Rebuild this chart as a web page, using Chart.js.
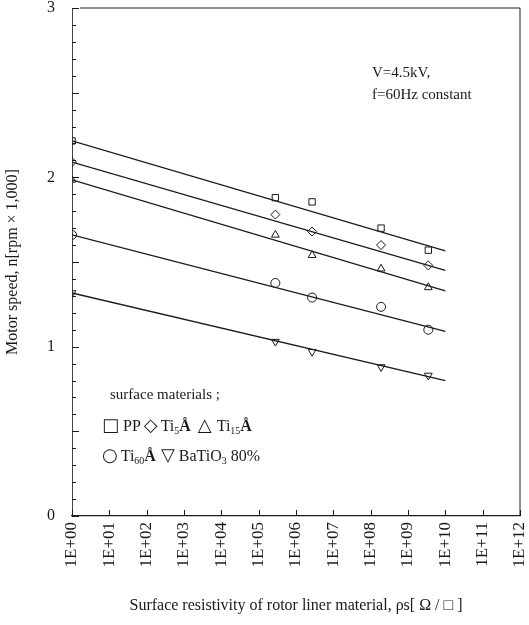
<!DOCTYPE html>
<html lang="en">
<head>
<meta charset="UTF-8">
<title>Motor speed vs surface resistivity</title>
<script src="https://cdn.jsdelivr.net/npm/chart.js"></script>
<style>
  body { margin: 0; background: #fff; }
  #wrap { width: 529px; height: 625px; position: relative; }
</style>
</head>
<body>
<div id="wrap"><canvas id="speedChart"></canvas></div>
<script>
// surface resistivity of the rotor liners (ohm/sq)
const resistivity = [1, 2.8e5, 2.7e6, 1.9e8, 3.5e9];

// measured motor speed (x1000 rpm)
const speedPP     = [2.215, 1.88, 1.855, 1.70, 1.57];
const speedTi5    = [2.09, 1.78, 1.68, 1.60, 1.48];
const speedTi15   = [1.985, 1.66, 1.54, 1.46, 1.35];
const speedTi60   = [1.66, 1.376, 1.29, 1.235, 1.10];
const speedBaTiO3 = [1.317, 1.03, 0.97, 0.88, 0.83];

// fitted straight lines: value at 1E+00 and at 1E+10
const fitX      = [1, 1e10];
const fitPP     = [2.215, 1.565];
const fitTi5    = [2.09, 1.45];
const fitTi15   = [1.985, 1.33];
const fitTi60   = [1.66, 1.09];
const fitBaTiO3 = [1.317, 0.80];

// axis ticks
const xTickValues = [1e0, 1e1, 1e2, 1e3, 1e4, 1e5, 1e6, 1e7, 1e8, 1e9, 1e10, 1e11, 1e12];
const xTickLabels = ['1E+00', '1E+01', '1E+02', '1E+03', '1E+04', '1E+05', '1E+06',
                     '1E+07', '1E+08', '1E+09', '1E+10', '1E+11', '1E+12'];
const yTickValues = [0, 1, 2, 3];

const serif = '"Liberation Serif", "DejaVu Serif", serif';
const ink = '#1a1a1a';

function pts(xs, ys) {
    return xs.map((x, i) => ({ x: x, y: ys[i] }));
}

function markers(ys, style, rotation) {
    return {
        type: 'scatter',
        data: pts(resistivity, ys),
        pointStyle: style,
        rotation: rotation || 0,
        pointRadius: 4.5,
        borderColor: ink,
        borderWidth: 1,
        backgroundColor: 'rgba(0,0,0,0)',
        showLine: false
    };
}

function fitLine(ys) {
    return {
        type: 'line',
        data: pts(fitX, ys),
        borderColor: ink,
        borderWidth: 1.3,
        pointRadius: 0,
        fill: false,
        tension: 0
    };
}

// draws a run of text pieces left to right
function drawRun(ctx, x, y, parts) {
    parts.forEach(p => {
        ctx.font = p.font;
        ctx.fillText(p.t, x, y + (p.dy || 0));
        x += ctx.measureText(p.t).width + (p.gap || 0);
    });
}

// inward ticks, the frame and the text notes
const framePlugin = {
    id: 'frame',
    afterDraw(chart) {
        const { ctx, chartArea: a, scales: { x, y } } = chart;
        ctx.save();
        ctx.strokeStyle = ink;
        ctx.lineWidth = 1;

        ctx.beginPath();
        ctx.moveTo(a.left + 8, a.top);
        ctx.lineTo(a.right, a.top);
        ctx.lineTo(a.right, a.bottom);
        ctx.stroke();

        ctx.beginPath();
        xTickValues.forEach(v => {
            const px = Math.round(x.getPixelForValue(v)) + 0.5;
            ctx.moveTo(px, a.bottom);
            ctx.lineTo(px, a.bottom - 6);
        });
        for (let i = 0; i <= 30; i++) {
            const py = Math.round(y.getPixelForValue(i / 10)) + 0.5;
            ctx.moveTo(a.left, py);
            ctx.lineTo(a.left + (i % 5 === 0 ? 7 : 4), py);
        }
        ctx.stroke();

        ctx.fillStyle = ink;
        ctx.textBaseline = 'alphabetic';
        ctx.textAlign = 'left';
        const txt = '15px ' + serif;
        const txt16 = '16px ' + serif;
        const sub = '10px ' + serif;
        const bold = 'bold 16px ' + serif;
        const sym = '18px "DejaVu Sans"';

        ctx.font = txt;
        ctx.fillText('V=4.5kV,', 372, 77);
        ctx.fillText('f=60Hz constant', 372, 99);
        ctx.fillText('surface materials ;', 110, 399);

        drawRun(ctx, 102, 431, [
            { t: '\u25A1', font: sym, gap: 4 },
            { t: 'PP', font: txt16, gap: 3 },
            { t: '\u25C7', font: sym, gap: 3 },
            { t: 'Ti', font: txt16 },
            { t: '5', font: sub, dy: 3 },
            { t: '\u00C5', font: bold, gap: 7 },
            { t: '\u25B3', font: sym, gap: 5 },
            { t: 'Ti', font: txt16 },
            { t: '15', font: sub, dy: 3 },
            { t: '\u00C5', font: bold }
        ]);
        drawRun(ctx, 102, 461, [
            { t: '\u25CB', font: sym, gap: 3 },
            { t: 'Ti', font: txt16 },
            { t: '60', font: sub, dy: 3 },
            { t: '\u00C5', font: bold, gap: 5 },
            { t: '\u25BD', font: sym, gap: 4 },
            { t: 'BaTiO', font: txt16 },
            { t: '3', font: sub, dy: 3, gap: 4 },
            { t: '80%', font: txt16 }
        ]);
        ctx.restore();
    }
};

const ctx = document.getElementById('speedChart').getContext('2d');
const speedChart = new Chart(ctx, {
    type: 'scatter',
    data: {
        datasets: [
            fitLine(fitPP),
            fitLine(fitTi5),
            fitLine(fitTi15),
            fitLine(fitTi60),
            fitLine(fitBaTiO3),
            markers(speedPP, 'rect'),
            markers(speedTi5, 'rectRot'),
            markers(speedTi15, 'triangle'),
            markers(speedTi60, 'circle'),
            markers(speedBaTiO3, 'triangle', 180)
        ]
    },
    options: {
        responsive: true,
        maintainAspectRatio: false,
        animation: false,
        layout: { padding: { top: 8, right: 9, left: 0, bottom: 0 } },
        plugins: {
            legend: { display: false },
            tooltip: { enabled: false }
        },
        scales: {
            x: {
                type: 'logarithmic',
                min: 1,
                max: 1e12,
                afterBuildTicks: s => { s.ticks = xTickValues.map(v => ({ value: v })); },
                afterFit: s => {
                    s.height = 109;
                    s.paddingLeft = 0;
                    s.paddingRight = 0;
                },
                grid: { display: false, drawTicks: false },
                border: { display: true, color: ink, width: 1.2 },
                ticks: {
                    autoSkip: false,
                    minRotation: 90,
                    maxRotation: 90,
                    padding: 6,
                    color: ink,
                    font: { family: serif, size: 17 },
                    callback: (v, i) => xTickLabels[i]
                },
                title: {
                    display: true,
                    text: 'Surface resistivity of rotor liner material, \u03C1s[ \u03A9 / \u25A1 ]',
                    color: ink,
                    font: { family: serif, size: 16 },
                    padding: { top: 0, bottom: 10 }
                }
            },
            y: {
                min: 0,
                max: 3,
                afterBuildTicks: s => { s.ticks = yTickValues.map(v => ({ value: v })); },
                afterFit: s => {
                    s.width = 72;
                    s.paddingTop = 0;
                    s.paddingBottom = 0;
                },
                grid: { display: false, drawTicks: false },
                border: { display: true, color: '#444', width: 1, dash: [7, 3] },
                ticks: {
                    padding: 17,
                    color: ink,
                    font: { family: serif, size: 16 }
                },
                title: {
                    display: true,
                    text: 'Motor speed, n[rpm \u00D7 1,000]',
                    color: ink,
                    font: { family: serif, size: 16 },
                    padding: { top: 3, bottom: 0 }
                }
            }
        }
    },
    plugins: [framePlugin]
});
</script>
</body>
</html>
